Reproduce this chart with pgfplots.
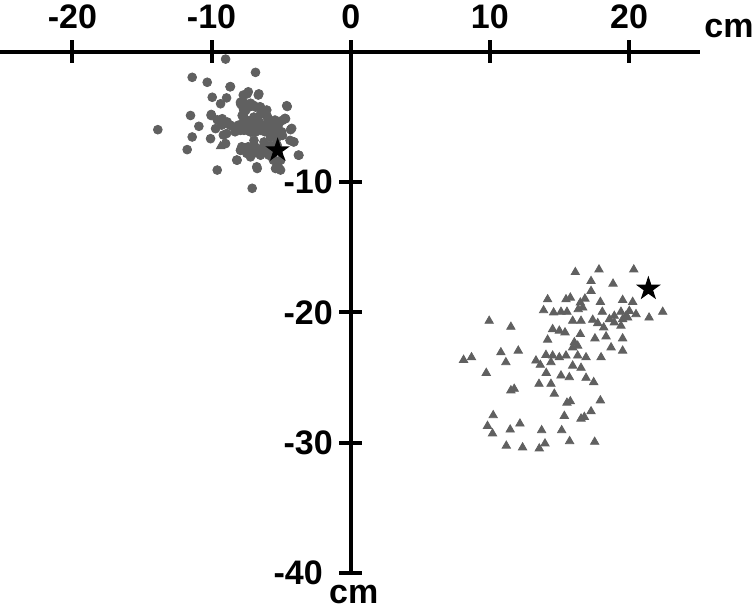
\documentclass[border=0pt]{standalone}
\usepackage{pgfplots}
\pgfplotsset{compat=1.18}
\usepackage{pgfplotstable}
\usepackage{fontspec}
\setmainfont{Liberation Sans}

\definecolor{ptgray}{RGB}{96,96,96}

% filled five-pointed star mark
\pgfdeclareplotmark{fstar}{%
  \pgfpathmoveto{\pgfpointpolar{90}{\pgfplotmarksize}}%
  \pgfpathlineto{\pgfpointpolar{126}{0.382\pgfplotmarksize}}%
  \pgfpathlineto{\pgfpointpolar{162}{\pgfplotmarksize}}%
  \pgfpathlineto{\pgfpointpolar{198}{0.382\pgfplotmarksize}}%
  \pgfpathlineto{\pgfpointpolar{234}{\pgfplotmarksize}}%
  \pgfpathlineto{\pgfpointpolar{270}{0.382\pgfplotmarksize}}%
  \pgfpathlineto{\pgfpointpolar{306}{\pgfplotmarksize}}%
  \pgfpathlineto{\pgfpointpolar{342}{0.382\pgfplotmarksize}}%
  \pgfpathlineto{\pgfpointpolar{18}{\pgfplotmarksize}}%
  \pgfpathlineto{\pgfpointpolar{54}{0.382\pgfplotmarksize}}%
  \pgfpathclose
  \pgfusepathqfill}

% group 1: circles (upper left)
\pgfplotstableread{
x y
-8.99 -0.56
-6.84 -1.58
-11.39 -1.96
-10.31 -2.34
-8.64 -2.67
-9.95 -3.49
-9.35 -3.99
-8.92 -3.54
-7.44 -3.23
-6.60 -3.23
-7.92 -3.87
-7.68 -4.50
-7.32 -4.25
-6.96 -4.12
-6.48 -4.25
-6.24 -4.63
-6.00 -5.01
-6.96 -5.01
-6.72 -5.65
-7.44 -5.27
-7.80 -4.89
-11.51 -4.89
-10.03 -4.89
-9.23 -5.14
-8.87 -5.39
-8.40 -5.78
-7.92 -6.03
-7.44 -6.03
-6.84 -6.16
-6.48 -6.03
-6.00 -5.78
-5.64 -5.83
-5.28 -6.03
-4.56 -4.20
-4.68 -5.14
-4.92 -5.27
-4.32 -5.98
-13.86 -5.98
-10.91 -5.72
-11.39 -6.54
-10.07 -6.67
-9.71 -5.90
-8.92 -6.28
-11.75 -7.51
-8.99 -7.05
-7.92 -7.56
-7.32 -7.43
-6.96 -7.30
-6.60 -7.81
-6.12 -7.56
-5.64 -7.56
-5.28 -7.18
-4.08 -6.92
-3.72 -7.94
-8.16 -8.32
-7.20 -8.07
-6.48 -7.94
-5.88 -7.94
-5.52 -8.32
-5.40 -8.96
-5.04 -9.08
-9.59 -9.08
-6.72 -8.96
-7.08 -10.48
-7.91 -4.00
-7.19 -3.95
-7.55 -4.51
-6.83 -4.25
-6.47 -4.76
-5.99 -4.96
-7.67 -6.03
-7.19 -6.16
-6.59 -5.78
-6.11 -5.65
-5.63 -5.78
-5.39 -6.16
-5.75 -6.54
-4.91 -6.42
-4.36 -6.80
-6.95 -6.80
-6.23 -6.92
-5.75 -7.18
-5.32 -7.56
-7.91 -7.56
-7.19 -7.56
-6.35 -7.43
-5.51 -8.32
-5.03 -8.32
-5.27 -8.83
-8.63 -5.65
-8.15 -5.78
-9.11 -5.52
-9.59 -5.22
-10.02 -4.81
-7.72 -3.32
-7.72 -3.84
-7.72 -4.34
-7.72 -4.86
-7.72 -5.37
-7.36 -3.07
-7.11 -4.09
-6.64 -3.32
-6.52 -4.22
-6.03 -4.47
-9.27 -5.63
-8.67 -5.63
-8.07 -5.63
-7.47 -5.63
-6.88 -5.63
-6.28 -5.63
-5.68 -5.63
-5.20 -5.63
-7.11 -5.24
-6.64 -5.24
-5.92 -5.24
-5.44 -5.24
-8.31 -6.14
-7.11 -6.14
-6.16 -6.14
-5.56 -6.14
-4.96 -6.14
-7.83 -7.29
-7.36 -7.29
-6.88 -7.29
-6.28 -7.29
-5.80 -7.29
-7.47 -7.80
-7.00 -7.80
-6.39 -7.80
-5.92 -7.80
-4.60 -4.14
-4.72 -5.11
-4.24 -5.88
-4.12 -6.91
-3.76 -7.93
-5.32 -6.65
-5.56 -8.31
-5.20 -8.83
-6.75 -8.83
-8.19 -8.31
-9.15 -6.39
-8.67 -2.69
}\circles

% group 2: triangles (lower right)
\pgfplotstableread{
x y
16.14 -16.92
17.84 -16.72
20.34 -16.72
17.27 -17.61
18.85 -17.81
17.27 -18.37
14.15 -19.01
15.47 -19.01
15.78 -18.88
16.83 -18.96
16.50 -19.26
17.94 -19.21
19.54 -19.06
20.26 -19.21
13.86 -19.85
14.58 -20.02
15.11 -19.97
15.54 -19.97
16.35 -19.77
16.67 -19.64
18.08 -19.97
19.42 -19.97
20.02 -19.90
20.50 -20.15
18.94 -20.28
19.78 -20.28
21.44 -20.41
22.42 -19.97
9.95 -20.66
11.51 -21.12
15.95 -20.66
16.55 -20.66
17.39 -20.58
17.75 -20.84
18.18 -21.17
18.94 -20.79
19.42 -21.04
18.59 -20.53
19.54 -20.53
19.90 -20.41
14.51 -21.30
14.99 -21.42
15.40 -21.55
16.50 -21.68
18.35 -21.86
19.54 -22.01
17.55 -22.01
14.15 -22.11
16.07 -22.31
15.95 -22.70
16.31 -22.57
18.71 -22.70
19.54 -22.95
8.11 -23.66
8.68 -23.46
10.79 -23.08
12.04 -22.95
11.15 -23.84
13.31 -23.71
14.03 -23.28
14.51 -23.33
14.99 -23.46
15.47 -23.33
16.31 -23.33
16.91 -23.46
17.99 -23.46
13.62 -24.04
14.39 -23.84
15.95 -24.10
16.55 -24.27
9.74 -24.66
14.05 -24.66
15.11 -24.86
15.71 -24.99
16.91 -25.04
17.46 -25.37
13.53 -25.50
14.39 -25.50
11.51 -26.00
11.75 -25.88
14.63 -26.26
15.54 -26.95
15.78 -26.84
17.94 -26.77
15.35 -27.96
16.55 -28.17
16.79 -28.04
17.27 -27.61
10.24 -27.91
9.83 -28.73
10.19 -29.31
11.46 -29.01
12.16 -28.55
13.72 -29.06
15.16 -29.06
11.18 -30.25
12.35 -30.38
13.55 -30.46
13.96 -30.08
15.73 -29.90
17.53 -29.95
-9.35 -7.25
}\triangles

\begin{document}
\begin{tikzpicture}
\begin{axis}[
    name=ax,
    scale only axis,
    width=350pt,
    height=260.5pt,
    xmin=-25.2, xmax=25.1,
    ymin=-40, ymax=0,
    axis x line=top,
    axis y line=middle,
    axis line style={-, line width=2pt, black},
    clip=false,
    xtick={-20,-10,0,10,20},
    xticklabels={-20,-10,0,10,20},
    ytick={-40,-30,-20,-10},
    yticklabels={-40\kern5pt,-30,-20,-10},
    hide obscured x ticks=false,
    hide obscured y ticks=false,
    tick align=center,
    major tick length=11.5pt,
    tick style={line width=2pt, black},
    ticklabel style={font=\fontsize{17}{20}\selectfont\bfseries, inner sep=0pt},
    xticklabel style={anchor=base, yshift=6pt},
    yticklabel style={anchor=east, xshift=-3pt},
    xlabel={cm},
    ylabel={cm},
    every axis x label/.style={at={(rel axis cs:1,1)}, anchor=base west, inner sep=0pt,
        xshift=2pt, yshift=7.3pt, font=\fontsize{17}{20}\selectfont\bfseries},
    every axis y label/.style={at={(axis cs:0,-40)}, anchor=north, inner sep=0pt,
        xshift=1.5pt, yshift=-6pt, font=\fontsize{17}{20}\selectfont\bfseries},
]
\addplot[only marks, mark=*, color=ptgray, mark size=2.2pt] table {\circles};
\addplot[only marks, mark=triangle*, color=ptgray, mark size=2.4pt] table {\triangles};
\addplot[only marks, mark=fstar, color=black, mark size=6.5pt] coordinates {(-5.25,-7.56) (21.39,-18.19)};
\end{axis}
\pgfresetboundingbox
\useasboundingbox ([shift={(0pt,-19pt)}]ax.south west) rectangle ([shift={(27pt,25.9pt)}]ax.north east);
\end{tikzpicture}
\end{document}
